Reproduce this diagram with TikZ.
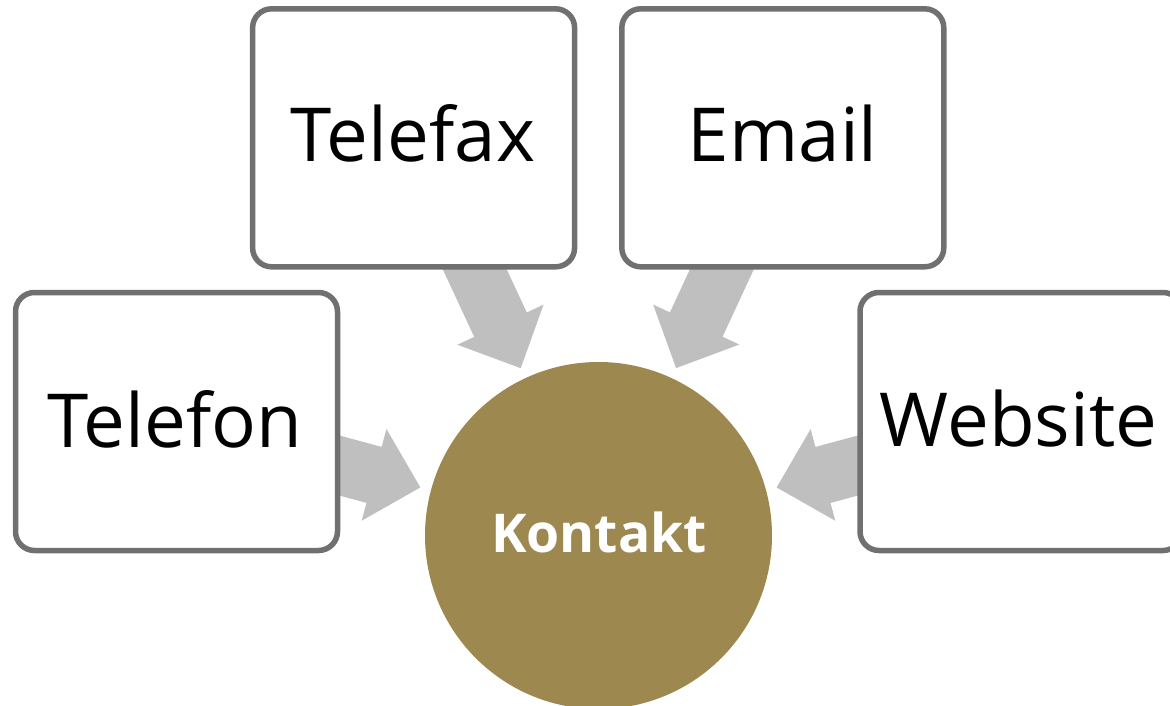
\documentclass[tikz,border=0pt]{standalone}
\usepackage{fontspec}
\setmainfont{Open Sans}
\usetikzlibrary{calc,backgrounds}
\definecolor{boxline}{HTML}{707070}
\definecolor{arrowgray}{HTML}{BFBFBF}
\definecolor{hubgold}{HTML}{9D8850}
\tikzset{
  srcbox/.style={draw=boxline, line width=5.5pt, fill=white, rounded corners=19pt,
    minimum width=322pt, minimum height=258pt, inner sep=0pt, outer sep=0pt},
  boxtext/.style={font=\fontsize{74.5}{90}\selectfont, text=black, inner sep=0pt, anchor=base},
  hub/.style={circle, fill=hubgold, minimum size=347pt, inner sep=0pt},
  hubtext/.style={font=\fontsize{53.5}{66}\selectfont\bfseries, text=white, inner sep=0pt, anchor=base},
  feed/.style={fill=arrowgray, draw=none}
}
\newcommand\feedarrow[2]{%
  \coordinate (T) at ($(#2.center)!184.5pt!(#1.center)$);
  \coordinate (H) at ($(T)!48pt!(#1.center)$);
  \fill[feed] ($(#1.center)!29pt!90:(T)$) -- ($(H)!29pt!90:(T)$) -- ($(H)!47.5pt!90:(T)$)
    -- (T) -- ($(H)!47.5pt!-90:(T)$) -- ($(H)!29pt!-90:(T)$) -- ($(#1.center)!29pt!-90:(T)$) -- cycle;
}
\begin{document}
\begin{tikzpicture}[x=1pt,y=-1pt]
\useasboundingbox (0,0) rectangle (1170,705);
\node[srcbox] (telefax) at (413.6,137.8) {};
\node[boxtext] (telefaxlbl) at (413,161.7) {Telefax};
\node[srcbox] (email) at (782.8,137.8) {};
\node[boxtext] (emaillbl) at (782.8,161.7) {Email};
\node[srcbox] (telefon) at (176.5,421.5) {};
\node[boxtext] (telefonlbl) at (175,447) {Telefon};
\node[srcbox] (website) at (1021,421.5) {};
\node[boxtext] (websitelbl) at (1018.5,446) {Website};
\node[hub] (kontakt) at (598.5,535.5) {};
\node[hubtext] (kontaktlbl) at (599,552) {Kontakt};
\begin{scope}[on background layer]
  \feedarrow{telefax}{kontakt}
  \feedarrow{email}{kontakt}
  \feedarrow{telefon}{kontakt}
  \feedarrow{website}{kontakt}
\end{scope}
\end{tikzpicture}
\end{document}
